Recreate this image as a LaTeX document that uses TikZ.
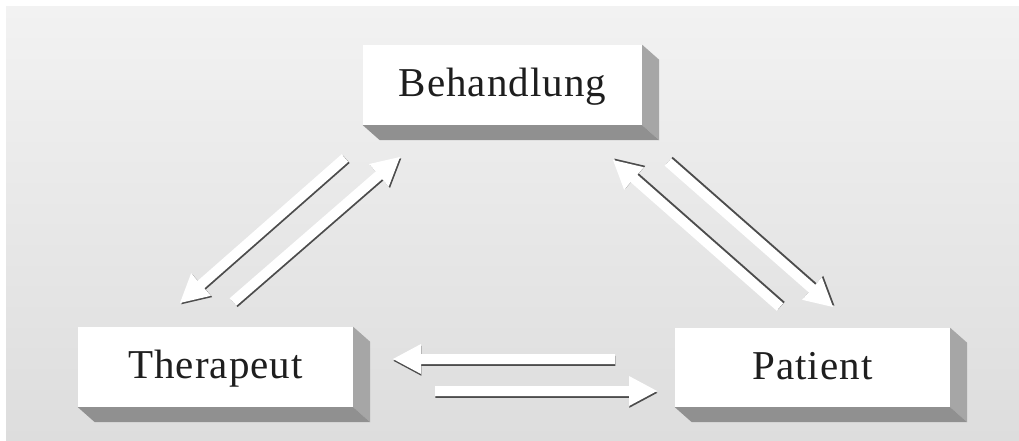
\documentclass[tikz,border=0pt]{standalone}
\usepackage{fontspec}
\setmainfont{Liberation Serif}[LetterSpace=2.5]
\usetikzlibrary{calc}
\definecolor{bgtop}{HTML}{F2F2F2}
\definecolor{bgbot}{HTML}{DDDDDD}
\definecolor{sidecol}{HTML}{A6A6A6}
\definecolor{botcol}{HTML}{909090}
\definecolor{txtcol}{HTML}{1E1E1E}
\newcommand\arrowpoly[3]{%
 ($(#1)!5pt!90:(#2)+(#3)$) --
 ($(#2)!28pt!(#1)!5pt!90:(#2)+(#3)$) --
 ($(#2)!28pt!(#1)!15pt!90:(#2)+(#3)$) --
 ($(#2)+(#3)$) --
 ($(#2)!28pt!(#1)!15pt!-90:(#2)+(#3)$) --
 ($(#2)!28pt!(#1)!5pt!-90:(#2)+(#3)$) --
 ($(#1)!5pt!-90:(#2)+(#3)$) -- cycle}
\newcommand\fatarrow[3]{%
 \fill[arrshadow] \arrowpoly{#1}{#2}{#3};
 \fill[arrbody] \arrowpoly{#1}{#2}{0,0};}
\newcommand\extrude[1]{%
 \fill[sidecol] (#1.north east) -- ($(#1.north east)+(17,15)$) -- ($(#1.south east)+(17,15)$) -- (#1.south east) -- cycle;
 \fill[botcol] (#1.south west) -- (#1.south east) -- ($(#1.south east)+(17,15)$) -- ($(#1.south west)+(17,15)$) -- cycle;}
\begin{document}
\begin{tikzpicture}[x=1pt,y=-1pt,
  box/.style={rectangle, fill=white, inner sep=0pt, minimum width=275pt, minimum height=80pt,
    text=txtcol, font=\fontsize{41}{48}\selectfont, text height=28pt, text depth=5pt},
  arrshadow/.style={fill=black!70},
  arrbody/.style={fill=white}]
\useasboundingbox (0,0) rectangle (1019,441);
\fill[white] (0,0) rectangle (1019,441);
\fill[top color=bgtop, bottom color=bgbot] (6,7) rectangle (1019,441);
% boxes
\node[box, minimum width=279pt] (beh) at (502.5,85) {Behandlung};
\node[box] (ther) at (215.5,367) {Therapeut};
\node[box, minimum height=79pt] (pat) at (812.5,367.5) {Patient};
\extrude{beh}
\extrude{ther}
\extrude{pat}
% arrow end points
\coordinate (a1s) at (345,158); \coordinate (a1e) at (180,303);
\coordinate (a2s) at (233,302); \coordinate (a2e) at (400,157);
\coordinate (a3s) at (780,307); \coordinate (a3e) at (613,160);
\coordinate (a4s) at (668,162); \coordinate (a4e) at (833,307);
\coordinate (a5s) at (615,359); \coordinate (a5e) at (393,359);
\coordinate (a6s) at (435,391); \coordinate (a6e) at (657,391);
\fatarrow{a1s}{a1e}{1.3,1.3}
\fatarrow{a2s}{a2e}{1.3,1.3}
\fatarrow{a3s}{a3e}{1.4,-1.4}
\fatarrow{a4s}{a4e}{1.4,-1.4}
\fatarrow{a5s}{a5e}{0.4,1.8}
\fatarrow{a6s}{a6e}{0.4,1.8}
\end{tikzpicture}
\end{document}
